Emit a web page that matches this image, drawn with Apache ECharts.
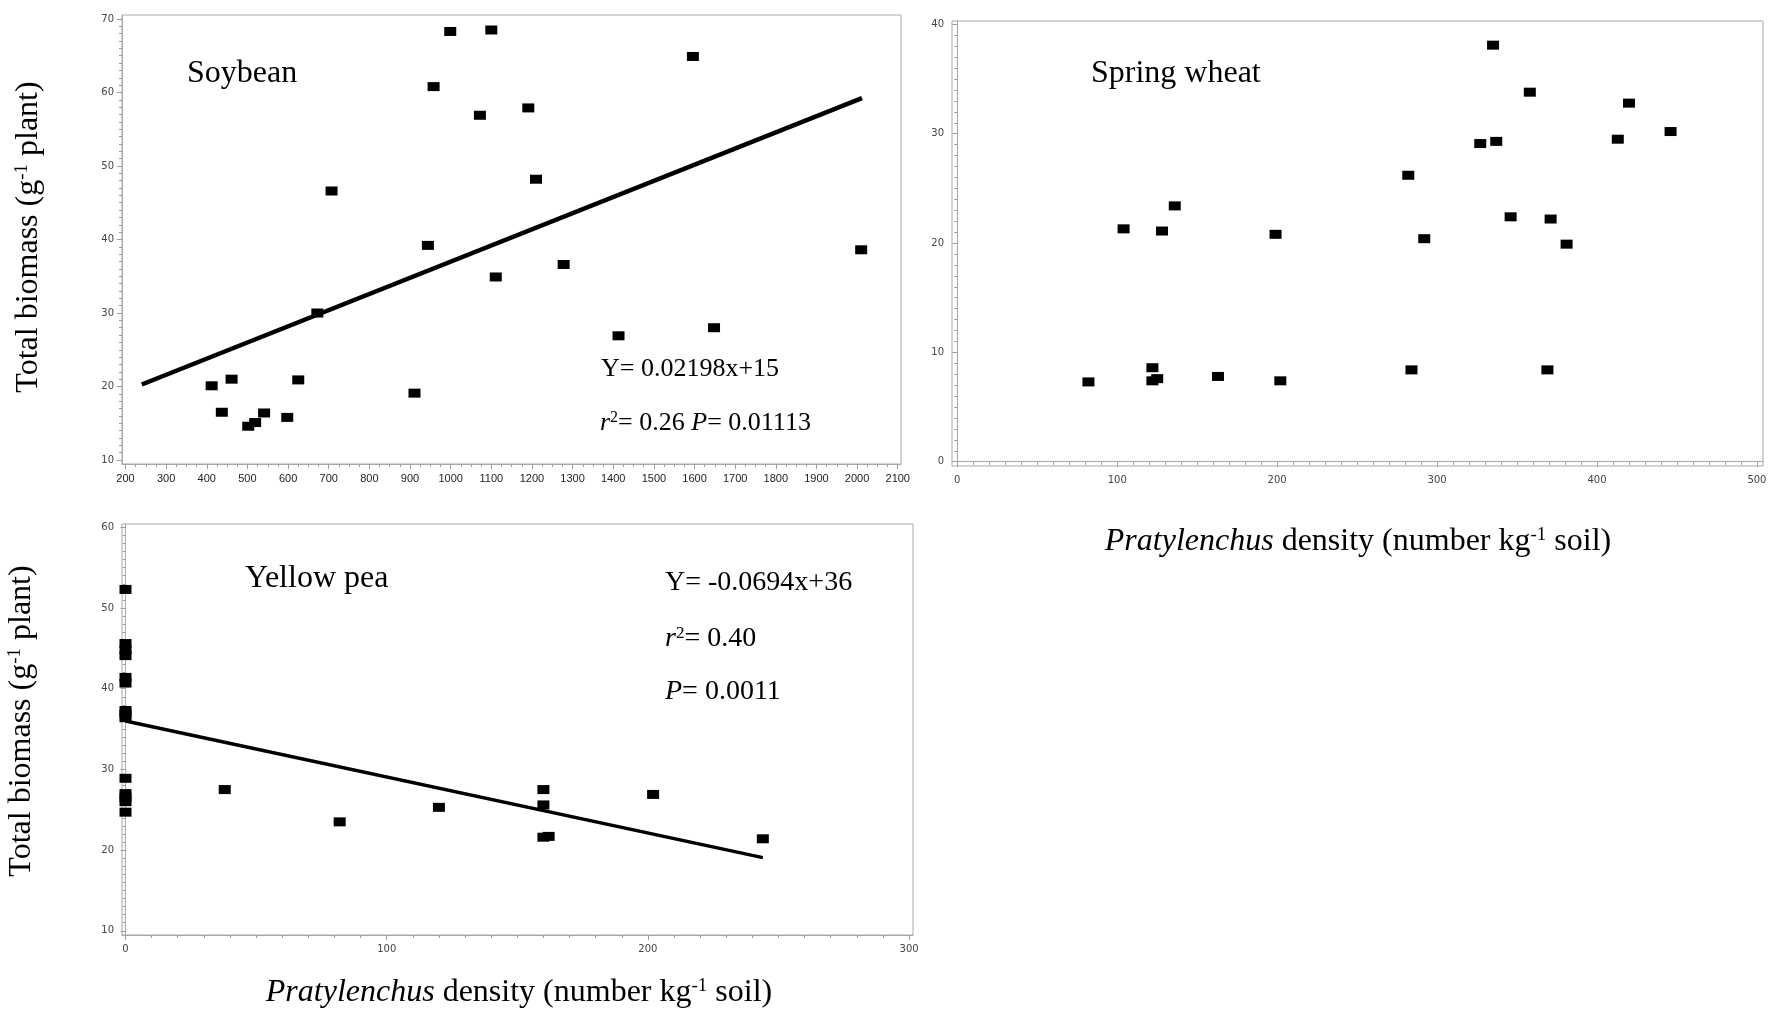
<!DOCTYPE html>
<html>
<head>
<meta charset="utf-8">
<script src="https://cdn.jsdelivr.net/npm/echarts@6/dist/echarts.min.js"></script>
<style>
html, body { margin: 0; padding: 0; background: #fff; }
#chart { width: 1772px; height: 1010px; }
</style>
</head>
<body>
<div id="chart"></div>
<script>
// Soybean: Pratylenchus density (x) vs total biomass (y)
const soybeanDensity = [412, 437, 461, 502, 519, 541, 598, 625, 672, 707, 911, 944, 958, 999,
  1100, 1072, 1191, 1210, 1111, 1278, 1413, 1596, 1648, 2010];
const soybeanBiomass = [20.1, 16.5, 21.0, 14.6, 15.1, 16.4, 15.8, 20.9, 30.0, 46.6, 19.1, 39.2, 60.8, 68.3,
  68.5, 56.9, 57.9, 48.2, 34.9, 36.6, 26.9, 64.9, 28.0, 38.6];
const soybeanFit = { slope: 0.02198, intercept: 15, from: 240, to: 2012 };

// Spring wheat
const wheatDensity = [82, 104, 122, 122, 125, 128, 136, 163, 199, 202,
  335, 358, 420, 446, 413, 327, 337, 282, 346, 371, 292, 381, 284, 369];
const wheatBiomass = [7.3, 21.3, 8.6, 7.4, 7.6, 21.1, 23.4, 7.8, 20.8, 7.4,
  38.1, 33.8, 32.8, 30.2, 29.5, 29.1, 29.3, 26.2, 22.4, 22.2, 20.4, 19.9, 8.4, 8.4];

// Yellow pea
const peaDensity = [0, 0, 0, 0, 0, 0, 0, 0, 0, 0, 0, 0, 0, 0,
  38, 82, 120, 160, 160, 160, 162, 202, 244];
const peaBiomass = [52.3, 45.6, 44.8, 44.1, 41.4, 40.7, 37.3, 36.9, 36.4, 28.9, 27.0, 26.5, 26.0, 24.7,
  27.5, 23.5, 25.3, 27.5, 25.6, 21.6, 21.7, 26.9, 21.4];
const peaFit = { slope: -0.0694, intercept: 36, from: 0, to: 244 };

// Tick labels
const soybeanXTicks = [200, 300, 400, 500, 600, 700, 800, 900, 1000, 1100, 1200, 1300, 1400, 1500, 1600, 1700, 1800, 1900, 2000, 2100];
const soybeanYTicks = [10, 20, 30, 40, 50, 60, 70];
const wheatXTicks = [0, 100, 200, 300, 400, 500];
const wheatYTicks = [0, 10, 20, 30, 40];
const peaXTicks = [0, 100, 200, 300];
const peaYTicks = [10, 20, 30, 40, 50, 60];

const SERIF = '"Liberation Serif", "Times New Roman", serif';
const AXIS_GRAY = '#a8a8a8';
const TICK_GRAY = '#9c9c9c';

function steps(start, end, step) {
  const out = [];
  for (let v = start; v <= end + 1e-9; v += step) out.push(Math.round(v * 1000) / 1000);
  return out;
}

function zip(xs, ys) { return xs.map((x, i) => [x, ys[i]]); }

function fitLine(f) {
  return [[f.from, f.slope * f.from + f.intercept], [f.to, f.slope * f.to + f.intercept]];
}

// Builds a labelled axis plus an unlabelled one carrying the short minor ticks.
function axisPair(dim, grid, min, max, ticks, minorStep, label) {
  const major = {
    type: 'value', gridIndex: grid, min: min, max: max,
    position: dim === 'x' ? 'bottom' : 'left',
    splitLine: { show: false },
    axisLine: { show: true, lineStyle: { color: AXIS_GRAY, width: 1 } },
    axisTick: { show: true, length: 5, lineStyle: { color: TICK_GRAY }, customValues: ticks },
    axisLabel: Object.assign({
      customValues: ticks, color: '#333', fontSize: 11, margin: dim === 'x' ? 9 : 8,
      formatter: (v) => String(v)
    }, label)
  };
  const minor = {
    type: 'value', gridIndex: grid, min: min, max: max,
    position: dim === 'x' ? 'bottom' : 'left',
    splitLine: { show: false },
    axisLine: { show: false },
    axisTick: { show: true, length: 3, lineStyle: { color: TICK_GRAY },
      customValues: steps(ticks[0], ticks[ticks.length - 1], minorStep) },
    axisLabel: { show: false }
  };
  return [major, minor];
}

const soyLabel = { fontFamily: '"Liberation Sans", Arial, sans-serif', color: '#222' };
const sansLabel = { fontFamily: '"DejaVu Sans", Verdana, sans-serif', color: '#444', fontSize: 10 };

const xAxes = [].concat(
  axisPair('x', 0, 191.4, 2108, soybeanXTicks, 25, soyLabel),
  axisPair('x', 1, -3.3, 503.8, wheatXTicks, 10, sansLabel),
  axisPair('x', 2, -1.34, 301.5, peaXTicks, 10, sansLabel)
);
const yAxes = [].concat(
  axisPair('y', 0, 9.46, 70.54, soybeanYTicks, 1, sansLabel),
  axisPair('y', 1, -0.39, 40.31, wheatYTicks, 1, sansLabel),
  axisPair('y', 2, 9.48, 60.41, peaYTicks, 1, sansLabel)
);

function scatter(idx, data) {
  return {
    type: 'scatter', xAxisIndex: idx * 2, yAxisIndex: idx * 2,
    data: data, symbol: 'rect', symbolSize: [12, 9],
    itemStyle: { color: '#000', opacity: 1 }, z: 3
  };
}
function regression(idx, data, width) {
  return {
    type: 'line', xAxisIndex: idx * 2, yAxisIndex: idx * 2,
    data: data, showSymbol: false, symbol: 'none',
    lineStyle: { color: '#000', width: width, opacity: 1 }, z: 4
  };
}

const serifRich = {
  it: { fontFamily: SERIF, fontStyle: 'italic', fontSize: 32, fill: '#000' },
  n: { fontFamily: SERIF, fontSize: 32, fill: '#000' },
  sup: { fontFamily: SERIF, fontSize: 19, verticalAlign: 'top', lineHeight: 22, fill: '#000' }
};

function eqRich(size) {
  return {
    it: { fontFamily: SERIF, fontStyle: 'italic', fontSize: size, fill: '#000' },
    n: { fontFamily: SERIF, fontSize: size, fill: '#000' },
    sup: { fontFamily: SERIF, fontSize: Math.round(size * 0.62), verticalAlign: 'top', lineHeight: Math.round(size * 0.7), fill: '#000' }
  };
}

function text(x, y, str, opts) {
  return Object.assign({
    type: 'text', x: x, y: y, silent: true,
    style: Object.assign({
      text: str, fontFamily: SERIF, fontSize: 32, fill: '#000',
      textAlign: 'left', textVerticalAlign: 'middle'
    }, opts && opts.style)
  }, opts && opts.el);
}

const yTitle = '{n|Total biomass (g}{sup|-1}{n| plant)}';
const xTitle = '{it|Pratylenchus}{n| density (number kg}{sup|-1}{n| soil)}';

const option = {
  animation: false,
  backgroundColor: '#fff',
  grid: [
    { left: 122, top: 15, width: 779, height: 449, show: true, borderColor: AXIS_GRAY, borderWidth: 1 },
    { left: 952, top: 21, width: 811, height: 445, show: true, borderColor: AXIS_GRAY, borderWidth: 1 },
    { left: 122, top: 524, width: 791, height: 411, show: true, borderColor: AXIS_GRAY, borderWidth: 1 }
  ],
  xAxis: xAxes,
  yAxis: yAxes,
  series: [
    regression(0, fitLine(soybeanFit), 4.5),
    scatter(0, zip(soybeanDensity, soybeanBiomass)),
    scatter(1, zip(wheatDensity, wheatBiomass)),
    regression(2, fitLine(peaFit), 3.5),
    scatter(2, zip(peaDensity, peaBiomass))
  ],
  graphic: [
    // panel names
    text(187, 74, 'Soybean'),
    text(1091, 74, 'Spring wheat'),
    text(245, 579, 'Yellow pea'),
    // soybean regression
    text(601, 369, 'Y= 0.02198x+15', { style: { fontSize: 26 } }),
    text(600, 423, '{it|r}{sup|2}{n|= 0.26 }{it|P}{n|= 0.01113}', { style: { rich: eqRich(26) } }),
    // yellow pea regression
    text(665, 583, 'Y= -0.0694x+36', { style: { fontSize: 28 } }),
    text(665, 639, '{it|r}{sup|2}{n|= 0.40}', { style: { rich: eqRich(28) } }),
    text(665, 692, '{it|P}{n|= 0.0011}', { style: { rich: eqRich(28) } }),
    // axis titles
    text(29, 237, yTitle, { el: { rotation: Math.PI / 2 }, style: { textAlign: 'center', rich: serifRich } }),
    text(22, 721, yTitle, { el: { rotation: Math.PI / 2 }, style: { textAlign: 'center', rich: serifRich } }),
    text(1358, 542, xTitle, { style: { textAlign: 'center', rich: serifRich } }),
    text(519, 993, xTitle, { style: { textAlign: 'center', rich: serifRich } })
  ]
};

const chart = echarts.init(document.getElementById('chart'), null, { renderer: 'canvas' });
chart.setOption(option);
</script>
</body>
</html>
